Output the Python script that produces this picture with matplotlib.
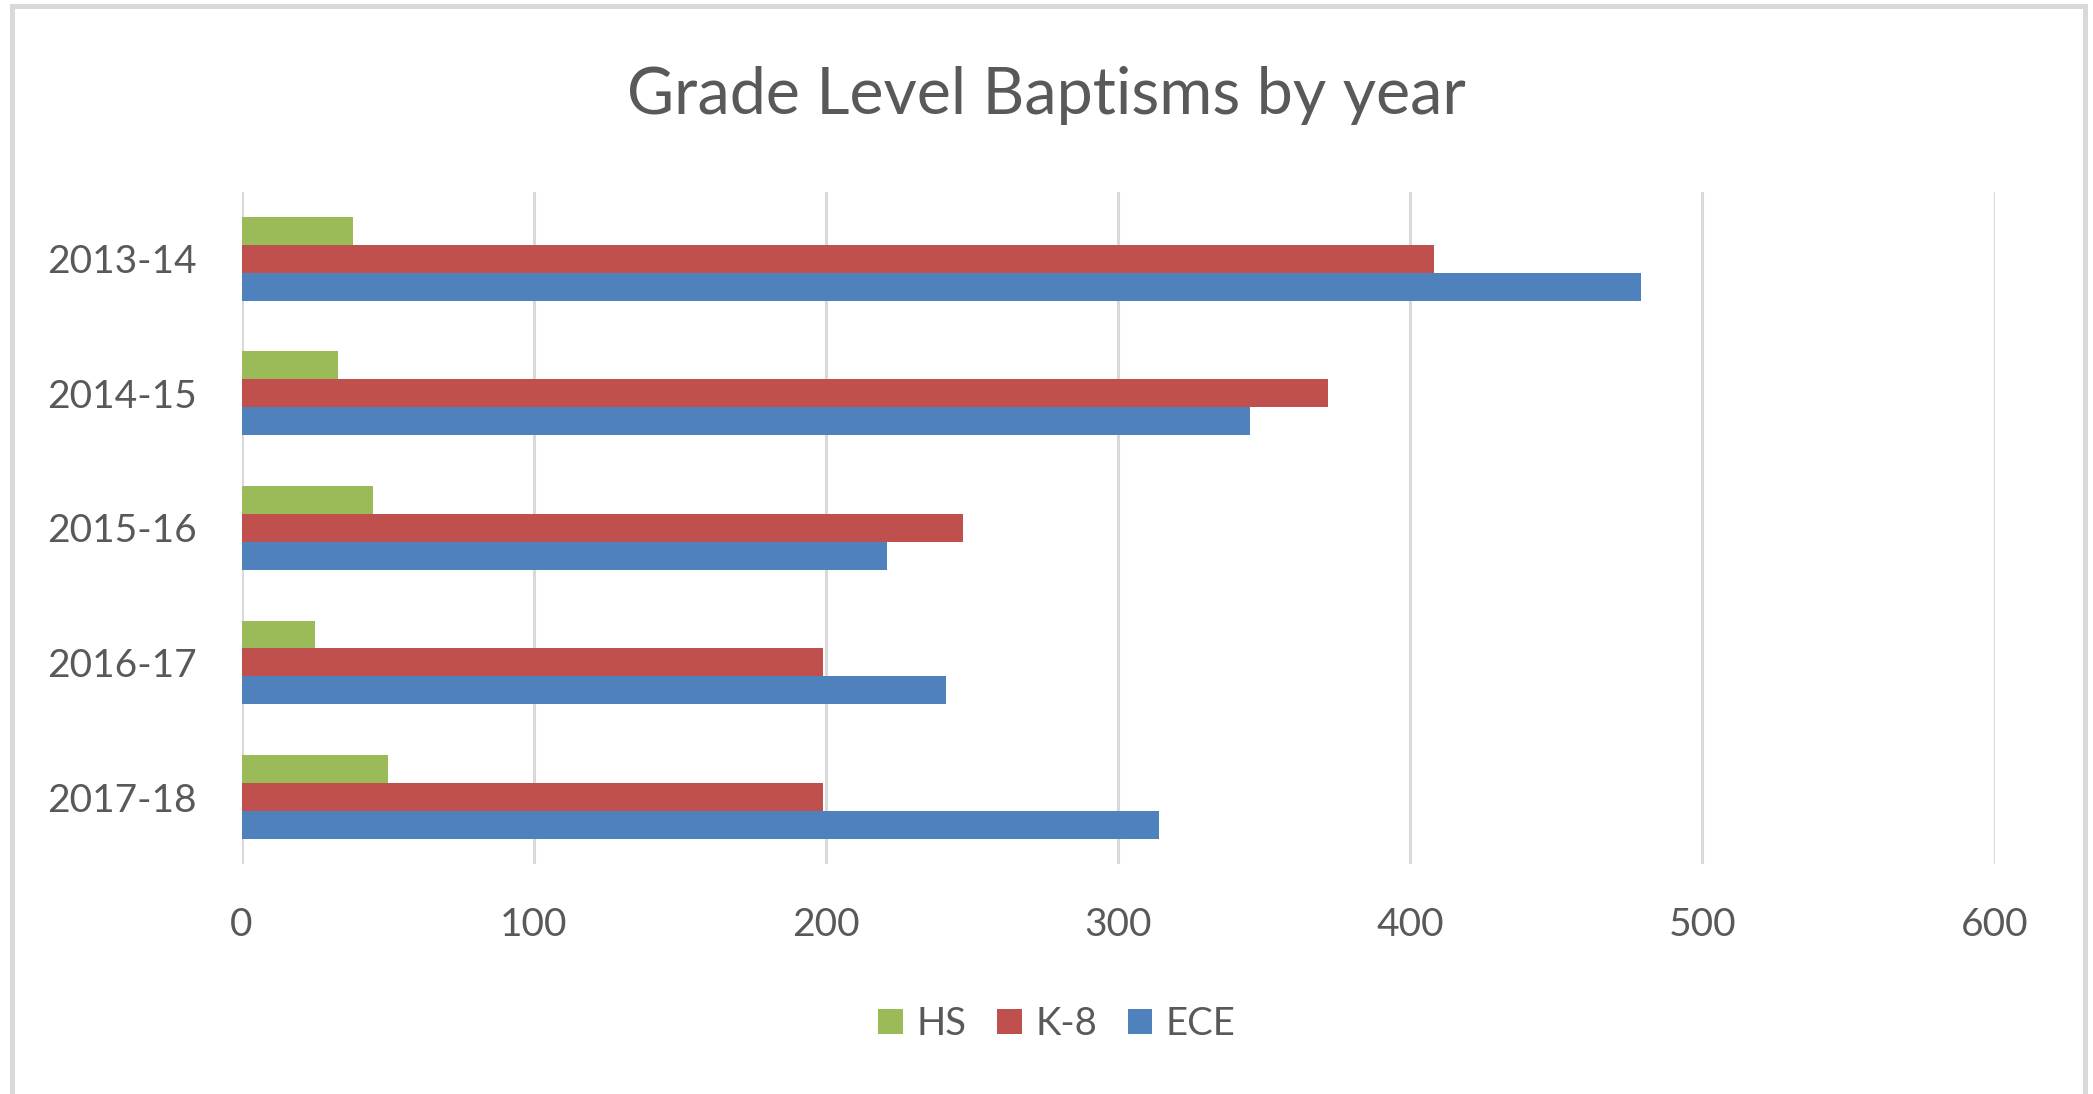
import matplotlib.pyplot as plt
import numpy as np
from matplotlib.patches import Rectangle

years = ["2013-14", "2014-15", "2015-16", "2016-17", "2017-18"]
hs = [38, 33, 45, 25, 50]
k8 = [408, 372, 247, 199, 199]
ece = [479, 345, 221, 241, 314]

series_names = ["HS", "K-8", "ECE"]
colors = ["#9BBB59", "#C0504D", "#4F81BD"]
text_color = "#595959"
grid_color = "#D9D9D9"


def main():
    plt.rcParams["font.family"] = ["Lato", "DejaVu Sans"]

    fig = plt.figure(figsize=(20.93, 10.94), dpi=100)
    ax = fig.add_axes([0.1154, 0.21, 0.8376, 0.6148])

    y = np.arange(len(years))
    h = 0.208
    for i, (vals, name, c) in enumerate(zip([hs, k8, ece], series_names, colors)):
        ax.barh(y + (i - 1) * h, vals, height=h, color=c, label=name, zorder=3)

    ax.set_ylim(-0.5, len(years) - 0.5)
    ax.invert_yaxis()
    ax.set_xlim(0, 600)
    ax.set_xticks(np.arange(0, 601, 100))
    ax.set_yticks(y)
    ax.set_yticklabels(years)

    ax.grid(axis="x", color=grid_color, linewidth=2.2, zorder=0)
    for s in ax.spines.values():
        s.set_visible(False)
    ax.tick_params(axis="both", length=0, labelsize=28, labelcolor=text_color)
    ax.tick_params(axis="x", pad=31)
    ax.tick_params(axis="y", pad=32)

    fig.text(0.5, 0.913, "Grade Level Baptisms by year", ha="center", va="center",
             fontsize=46.5, color=text_color)

    fig.legend(loc="center", bbox_to_anchor=(0.505, 0.064), ncol=3, frameon=False,
               fontsize=27.5, labelcolor=text_color, handlelength=0.65, handleheight=0.65,
               handletextpad=0.35, columnspacing=0.8)

    border = Rectangle((12 / 2093, -0.05), (2085 - 12) / 2093, (1094 - 6) / 1094 + 0.05,
                       transform=fig.transFigure, fill=False, edgecolor=grid_color,
                       linewidth=3.6)
    fig.patches.append(border)

    fig.savefig("out.png", dpi=100)
    plt.close(fig)


if __name__ == "__main__":
    main()
